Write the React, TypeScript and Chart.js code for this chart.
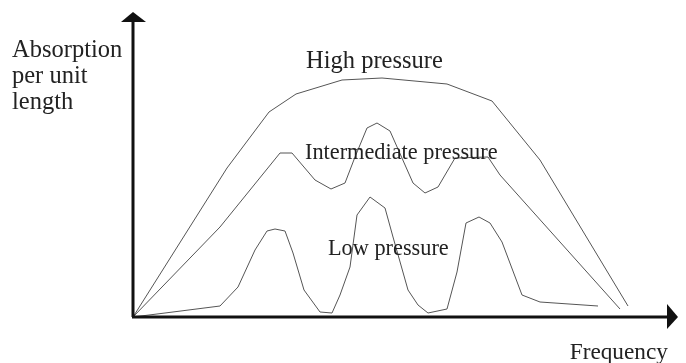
import React, { useEffect, useRef } from "react";
import { Chart, registerables } from "chart.js";

Chart.register(...registerables);

// Frequency (arbitrary units) vs absorption per unit length (arbitrary units)
const highFreq = [0, 94, 136, 163, 209, 249, 314, 359, 407, 495];
const highAbs = [0, 149, 205, 223, 237, 239, 233, 216, 157, 11];

const interFreq = [0, 87, 147, 159, 182, 198, 212, 222, 234, 244, 257, 280, 292, 305, 322, 355, 367, 487];
const interAbs = [0, 90, 164, 164, 137, 128, 134, 160, 189, 194, 186, 134, 124, 130, 159, 160, 142, 8];

const lowFreq = [0, 32, 87, 105, 122, 134, 142, 152, 160, 171, 187, 199, 207, 217, 224, 237, 252, 260, 275, 285, 295, 314, 324, 333, 346, 357, 369, 389, 407, 465];
const lowAbs = [0, 4, 11, 30, 67, 86, 88, 86, 64, 27, 5, 4, 22, 50, 102, 120, 109, 80, 27, 12, 4, 8, 45, 94, 100, 94, 75, 22, 15, 11];

// Curve labels: text, frequency (left edge), absorption (baseline), font size
const labelTexts = ["High pressure", "Intermediate pressure", "Low pressure"];
const labelFreq = [173, 172, 195];
const labelAbs = [249, 158, 62];
const labelSizes = [24.5, 22.3, 22.3];

const yTitleLines = ["Absorption", "per unit", "length"];
const xTitle = "Frequency";

const pts = (xs: number[], ys: number[]) => xs.map((x, i) => ({ x, y: ys[i] }));

const font = (s: number) => `${s}px "Liberation Serif", "Times New Roman", serif`;

const decorPlugin = {
  id: "decor",
  afterDraw(chart: any) {
    const { ctx, chartArea } = chart;
    const { left, right, top, bottom } = chartArea;
    const xs = chart.scales.x;
    const ys = chart.scales.y;
    ctx.save();
    // axes
    ctx.strokeStyle = "#111";
    ctx.fillStyle = "#111";
    ctx.lineWidth = 3;
    ctx.beginPath();
    ctx.moveTo(left, bottom);
    ctx.lineTo(left, top + 8);
    ctx.moveTo(left - 1, bottom);
    ctx.lineTo(right - 8, bottom);
    ctx.stroke();
    // arrow heads
    ctx.beginPath();
    ctx.moveTo(left, top);
    ctx.lineTo(left - 12, top + 10);
    ctx.lineTo(left + 13, top + 10);
    ctx.closePath();
    ctx.fill();
    ctx.beginPath();
    ctx.moveTo(right + 1, bottom);
    ctx.lineTo(right - 10, bottom - 13);
    ctx.lineTo(right - 10, bottom + 12);
    ctx.closePath();
    ctx.fill();
    // curve labels
    ctx.fillStyle = "#222";
    ctx.textBaseline = "alphabetic";
    ctx.textAlign = "left";
    labelTexts.forEach((t, i) => {
      ctx.font = font(labelSizes[i]);
      ctx.fillText(t, xs.getPixelForValue(labelFreq[i]), ys.getPixelForValue(labelAbs[i]));
    });
    // axis titles
    ctx.font = font(24.5);
    yTitleLines.forEach((t, i) => ctx.fillText(t, 12, 57 + i * 26));
    ctx.font = font(23.3);
    ctx.textAlign = "right";
    ctx.fillText(xTitle, 668, 359);
    ctx.restore();
  },
};

export default function App() {
  const ref = useRef<HTMLCanvasElement>(null);
  useEffect(() => {
    if (!ref.current) return;
    const lineStyle = { borderColor: "#555", borderWidth: 1, pointRadius: 0, tension: 0, fill: false };
    const chart = new Chart(ref.current, {
      type: "line",
      data: {
        datasets: [
          { label: "High pressure", data: pts(highFreq, highAbs), ...lineStyle },
          { label: "Intermediate pressure", data: pts(interFreq, interAbs), ...lineStyle },
          { label: "Low pressure", data: pts(lowFreq, lowAbs), ...lineStyle },
        ],
      },
      options: {
        responsive: false,
        animation: false,
        layout: { padding: { left: 133, right: 9, top: 12, bottom: 46 } },
        plugins: { legend: { display: false }, tooltip: { enabled: false } },
        scales: {
          x: { type: "linear", min: 0, max: 544, display: false },
          y: { type: "linear", min: 0, max: 305, display: false },
        },
      },
      plugins: [decorPlugin],
    });
    return () => chart.destroy();
  }, []);
  return (
    <div style={{ position: "fixed", left: 0, top: 0, width: 686, height: 363, background: "#fff" }}>
      <canvas ref={ref} width={686} height={363} />
    </div>
  );
}
